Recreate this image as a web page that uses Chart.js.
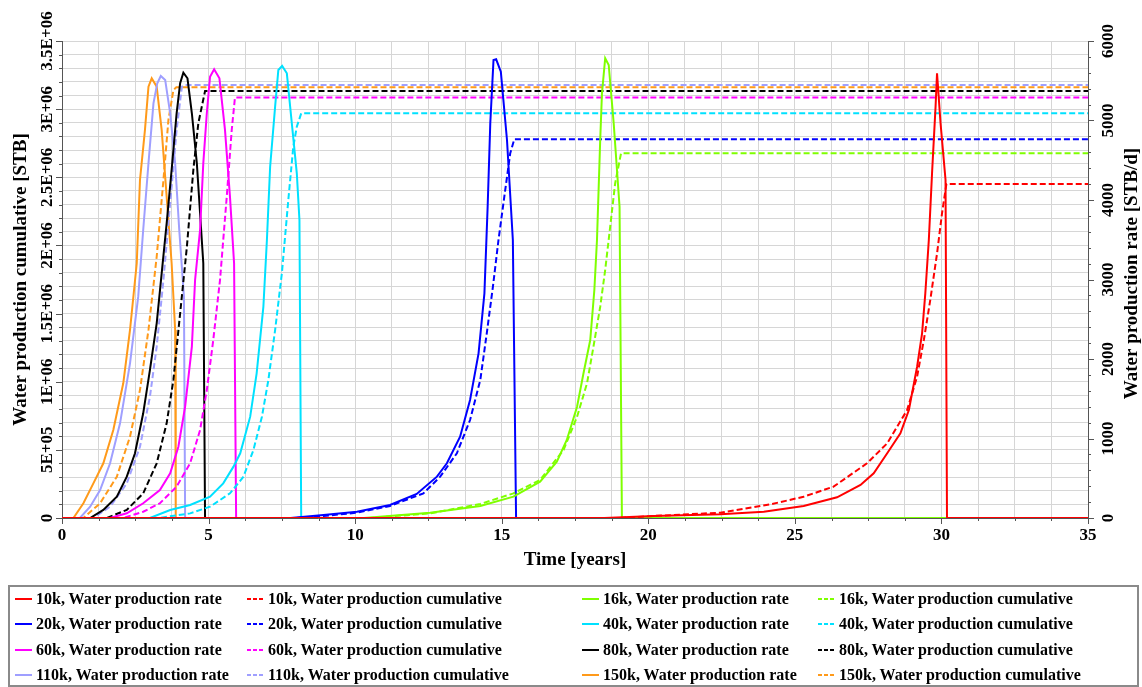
<!DOCTYPE html>
<html>
<head>
<meta charset="utf-8">
<script src="https://cdn.jsdelivr.net/npm/chart.js@4.4.0/dist/chart.umd.min.js"></script>
<style>
  body { margin: 0; background: #fff; }
  #wrap { position: relative; width: 1142px; height: 687px; }
  #legend {
    position: absolute; left: 8px; top: 585px; width: 1127px; height: 98px;
    border: 2px solid #8a8a8a; box-sizing: content-box;
    font: bold 16px "Liberation Serif", "Times New Roman", serif; color: #000;
  }
  .item { position: absolute; height: 20px; display: flex; align-items: center; white-space: nowrap; }
  .sample { width: 17px; height: 2px; margin-right: 4px; }
</style>
</head>
<body>
<div id="wrap">
  <canvas id="myChart" width="1142" height="687"></canvas>
  <div id="legend"></div>
</div>
<script>
// cases, in legend order (two per legend row)
var cases = ['10k', '16k', '20k', '40k', '60k', '80k', '110k', '150k'];
var caseColors = ['#ff0000', '#7fff00', '#0000ff', '#00e1ff', '#ff00ff', '#000000', '#9f9fff', '#ff9a1a'];

// 10k
var t10kRate = [0, 18.5, 20.2, 22.46, 23.94, 25.3, 26.44, 27.24, 27.69, 28.15, 28.6, 28.89, 29.17, 29.34, 29.45, 29.57, 29.68, 29.8, 29.85, 29.97, 30.14, 30.19, 35];
var q10kRate = [0, 0, 25, 46, 80, 150, 260, 415, 562, 814, 1065, 1358, 1903, 2323, 2826, 3497, 4336, 5174, 5594, 4965, 4252, 0, 0];
var t10kCum = [0, 19.0, 20.2, 22.46, 24.16, 25.3, 26.32, 27.46, 28.15, 28.83, 29.17, 29.4, 29.62, 29.85, 30.02, 30.17, 35];
var v10kCum = [0, 0, 15000, 39000, 100000, 156000, 230000, 401000, 548000, 792000, 1037000, 1306000, 1600000, 1940000, 2236000, 2451000, 2451000];
// 16k
var t16kRate = [0, 10.3, 12.56, 14.27, 15.4, 16.31, 16.88, 17.22, 17.57, 17.79, 18.02, 18.16, 18.25, 18.36, 18.42, 18.53, 18.65, 18.82, 19.02, 19.1, 35];
var q16kRate = [0, 0, 67, 150, 268, 457, 708, 981, 1400, 1820, 2239, 2868, 3497, 4755, 5342, 5783, 5698, 4965, 3916, 0, 0];
var t16kCum = [0, 10.5, 12.56, 14.27, 15.4, 16.31, 17.11, 17.57, 17.91, 18.13, 18.36, 18.53, 18.7, 18.87, 19.07, 35];
var v16kCum = [0, 0, 34000, 103000, 181000, 279000, 499000, 743000, 988000, 1257000, 1550000, 1820000, 2137000, 2456000, 2676000, 2676000];
// 20k
var t20kRate = [0, 7.8, 8.92, 10.06, 11.19, 12.1, 12.79, 13.13, 13.58, 13.92, 14.21, 14.41, 14.52, 14.61, 14.72, 14.81, 14.97, 15.18, 15.38, 15.49, 35];
var q20kRate = [0, 0, 38, 80, 164, 302, 520, 688, 1023, 1484, 2071, 2826, 3916, 4965, 5761, 5770, 5614, 4755, 3497, 0, 0];
var t20kCum = [0, 8.0, 8.92, 10.06, 11.19, 12.33, 12.9, 13.47, 13.92, 14.27, 14.49, 14.7, 14.89, 15.12, 15.29, 15.43, 35];
var v20kCum = [0, 0, 14700, 39000, 88000, 181000, 303000, 475000, 719000, 1013000, 1355000, 1697000, 2040000, 2407000, 2676000, 2779000, 2779000];
// 40k
var t40kRate = [0, 3.0, 3.69, 4.37, 5.05, 5.5, 5.85, 6.08, 6.42, 6.64, 6.87, 6.99, 7.1, 7.27, 7.38, 7.51, 7.67, 7.84, 8.01, 8.1, 8.16, 35];
var q40kRate = [0, 0, 101, 164, 268, 436, 646, 814, 1275, 1820, 2658, 3497, 4419, 5174, 5635, 5686, 5594, 4965, 4336, 3749, 0, 0];
var t40kCum = [0, 3.3, 4.37, 5.05, 5.73, 6.19, 6.53, 6.82, 7.04, 7.27, 7.5, 7.72, 7.89, 8.01, 8.16, 35];
var v40kCum = [0, 0, 34000, 83000, 181000, 303000, 499000, 743000, 1013000, 1379000, 1795000, 2333000, 2724000, 2871000, 2969000, 2969000];
// 60k
var t60kRate = [0, 1.64, 2.21, 2.77, 3.34, 3.69, 3.97, 4.2, 4.43, 4.54, 4.71, 4.82, 4.94, 5.05, 5.19, 5.37, 5.56, 5.73, 5.87, 5.94, 35];
var q60kRate = [0, 0, 59, 185, 352, 562, 897, 1400, 2155, 2994, 3623, 4462, 5091, 5551, 5644, 5531, 4881, 4042, 3204, 0, 0];
var t60kCum = [0, 2.08, 2.77, 3.34, 3.91, 4.37, 4.71, 4.94, 5.16, 5.39, 5.62, 5.79, 5.9, 35];
var v60kCum = [0, 0, 46000, 108000, 230000, 401000, 646000, 939000, 1306000, 1746000, 2357000, 2847000, 3085000, 3085000];
// 80k
var t80kRate = [0, 0.96, 1.41, 1.87, 2.21, 2.49, 2.77, 3.0, 3.23, 3.4, 3.57, 3.74, 3.91, 4.03, 4.14, 4.28, 4.43, 4.6, 4.71, 4.82, 4.88, 35];
var q80kRate = [0, 0, 101, 268, 520, 814, 1317, 1862, 2449, 3078, 3707, 4378, 5091, 5468, 5602, 5531, 5091, 4462, 3833, 3204, 0, 0];
var t80kCum = [0, 1.52, 2.21, 2.77, 3.23, 3.57, 3.8, 4.03, 4.26, 4.48, 4.65, 4.88, 35];
var v80kCum = [0, 0, 59000, 181000, 401000, 695000, 1013000, 1502000, 1990000, 2553000, 2896000, 3133000, 3133000];
// 110k
var t110kRate = [0, 0.61, 0.96, 1.3, 1.64, 1.98, 2.32, 2.6, 2.77, 2.95, 3.12, 3.25, 3.37, 3.52, 3.69, 3.86, 4.0, 4.16, 4.2, 35];
var q110kRate = [0, 0, 142, 352, 688, 1191, 1946, 2784, 3623, 4462, 5216, 5468, 5560, 5510, 5091, 4462, 3623, 2784, 0, 0];
var t110kCum = [0, 1.07, 1.64, 2.21, 2.66, 3.0, 3.23, 3.46, 3.69, 3.91, 4.09, 4.2, 35];
var v110kCum = [0, 0, 83000, 254000, 523000, 890000, 1257000, 1746000, 2309000, 2847000, 3165000, 3177000, 3177000];
// 150k
var t150kRate = [0, 0.39, 0.73, 1.07, 1.41, 1.75, 2.09, 2.32, 2.55, 2.66, 2.83, 2.95, 3.06, 3.23, 3.4, 3.57, 3.74, 3.86, 3.88, 35];
var q150kRate = [0, 0, 185, 436, 688, 1107, 1694, 2365, 3204, 4252, 4881, 5426, 5531, 5426, 4881, 4042, 3204, 2365, 0, 0];
var t150kCum = [0, 0.73, 1.3, 1.87, 2.32, 2.66, 2.95, 3.23, 3.46, 3.63, 3.8, 3.9, 35];
var v150kCum = [0, 0, 108000, 303000, 597000, 939000, 1380000, 1917000, 2480000, 2920000, 3140000, 3160000, 3160000];

// tick labels
var timeTicks = [0, 5, 10, 15, 20, 25, 30, 35];
var cumTicks = [0, 5e5, 1e6, 1.5e6, 2e6, 2.5e6, 3e6, 3.5e6];
var rateTicks = [0, 1000, 2000, 3000, 4000, 5000, 6000];

var series = {
    '10k': [t10kRate, q10kRate, t10kCum, v10kCum],
    '16k': [t16kRate, q16kRate, t16kCum, v16kCum],
    '20k': [t20kRate, q20kRate, t20kCum, v20kCum],
    '40k': [t40kRate, q40kRate, t40kCum, v40kCum],
    '60k': [t60kRate, q60kRate, t60kCum, v60kCum],
    '80k': [t80kRate, q80kRate, t80kCum, v80kCum],
    '110k': [t110kRate, q110kRate, t110kCum, v110kCum],
    '150k': [t150kRate, q150kRate, t150kCum, v150kCum]
};

function pts(ts, vs) {
    return ts.map(function (t, i) { return { x: t, y: vs[i] }; });
}

var datasets = [];
cases.forEach(function (c, i) {
    var s = series[c];
    datasets.push({
        label: c + ', Water production rate',
        data: pts(s[0], s[1]),
        yAxisID: 'yR',
        borderColor: caseColors[i],
        borderWidth: 2
    });
    datasets.push({
        label: c + ', Water production cumulative',
        data: pts(s[2], s[3]),
        yAxisID: 'yL',
        borderColor: caseColors[i],
        borderWidth: 2,
        borderDash: [6, 3]
    });
});

function sci(v) {
    if (v === 0) return '0';
    var e = Math.floor(Math.log10(v));
    var m = Math.round(v / Math.pow(10, e) * 10) / 10;
    return m + 'E+' + String(e).padStart(2, '0');
}

var SERIF = '"Liberation Serif", "Times New Roman", serif';

// tick marks, rotated tick labels and axis titles
var axisDecor = {
    id: 'axisDecor',
    afterDraw: function (chart) {
        var ctx = chart.ctx, a = chart.chartArea;
        var x = chart.scales.x, yL = chart.scales.yL, yR = chart.scales.yR;
        ctx.save();
        ctx.strokeStyle = '#555';
        ctx.lineWidth = 1;
        ctx.beginPath();
        yL.ticks.forEach(function (t) {
            var p = Math.round(yL.getPixelForValue(t.value)) + 0.5;
            var len = Math.round(t.value / 1e5) % 5 === 0 ? 6 : 3;
            ctx.moveTo(a.left - len, p); ctx.lineTo(a.left, p);
        });
        for (var r = 0; r <= 6000; r += 200) {
            var p = Math.round(yR.getPixelForValue(r)) + 0.5;
            var len = r % 1000 === 0 ? 6 : 3;
            ctx.moveTo(a.right, p); ctx.lineTo(a.right + len, p);
        }
        x.ticks.forEach(function (t) {
            var p = Math.round(x.getPixelForValue(t.value)) + 0.5;
            var len = Math.abs(t.value / 5 - Math.round(t.value / 5)) < 1e-6 ? 6 : 3;
            ctx.moveTo(p, a.bottom); ctx.lineTo(p, a.bottom + len);
        });
        ctx.stroke();

        ctx.fillStyle = '#000';
        ctx.font = 'bold 17px ' + SERIF;
        ctx.textAlign = 'center';
        ctx.textBaseline = 'alphabetic';
        timeTicks.forEach(function (v) {
            ctx.fillText(String(v), x.getPixelForValue(v), a.bottom + 22);
        });
        cumTicks.forEach(function (v) {
            ctx.save();
            ctx.translate(a.left - 10, yL.getPixelForValue(v));
            ctx.rotate(-Math.PI / 2);
            ctx.fillText(sci(v), 0, 0);
            ctx.restore();
        });
        rateTicks.forEach(function (v) {
            ctx.save();
            ctx.translate(a.right + 25, yR.getPixelForValue(v));
            ctx.rotate(-Math.PI / 2);
            ctx.fillText(String(v), 0, 0);
            ctx.restore();
        });

        ctx.font = 'bold 19px ' + SERIF;
        ctx.fillText('Time [years]', (a.left + a.right) / 2, a.bottom + 47);
        var midY = (a.top + a.bottom) / 2;
        ctx.save();
        ctx.translate(26, midY);
        ctx.rotate(-Math.PI / 2);
        ctx.fillText('Water production cumulative [STB]', 0, 0);
        ctx.restore();
        ctx.save();
        ctx.translate(1137, midY - 6);
        ctx.rotate(-Math.PI / 2);
        ctx.fillText('Water production rate [STB/d]', 0, 0);
        ctx.restore();
        ctx.restore();
    }
};

var chart = new Chart(document.getElementById('myChart').getContext('2d'), {
    type: 'line',
    data: { datasets: datasets },
    options: {
        responsive: false,
        animation: false,
        elements: { point: { radius: 0 }, line: { tension: 0 } },
        layout: { padding: { left: 62, right: 54, top: 41, bottom: 169 } },
        plugins: { legend: { display: false }, tooltip: { enabled: false } },
        scales: {
            x: {
                type: 'linear', min: 0, max: 35,
                ticks: { display: false, stepSize: 1.25, maxTicksLimit: 100 },
                grid: { color: '#d6d6d6', drawTicks: false },
                border: { color: '#555' }
            },
            yL: {
                type: 'linear', position: 'left', min: 0, max: 3.5e6,
                ticks: { display: false, stepSize: 1e5, maxTicksLimit: 100 },
                grid: { color: '#d6d6d6', drawTicks: false },
                border: { color: '#555' }
            },
            yR: {
                type: 'linear', position: 'right', min: 0, max: 6000,
                ticks: { display: false, stepSize: 1000 },
                grid: { drawOnChartArea: false, drawTicks: false },
                border: { color: '#555' }
            }
        }
    },
    plugins: [axisDecor]
});

// legend box built from the chart's datasets
var legendCols = [36, 268, 603, 839];
var legendRows = [12, 37, 62.5, 88];
var legend = document.getElementById('legend');
chart.data.datasets.forEach(function (ds, i) {
    var item = document.createElement('div');
    item.className = 'item';
    item.style.left = (legendCols[i % 4] - 21 - 10) + 'px';
    item.style.top = (legendRows[Math.floor(i / 4)] - 10) + 'px';
    var s = document.createElement('span');
    s.className = 'sample';
    if (ds.borderDash) {
        s.style.background = 'repeating-linear-gradient(to right, ' + ds.borderColor + ' 0 4px, transparent 4px 6px)';
    } else {
        s.style.background = ds.borderColor;
    }
    item.appendChild(s);
    item.appendChild(document.createTextNode(ds.label));
    legend.appendChild(item);
});
</script>
</body>
</html>
